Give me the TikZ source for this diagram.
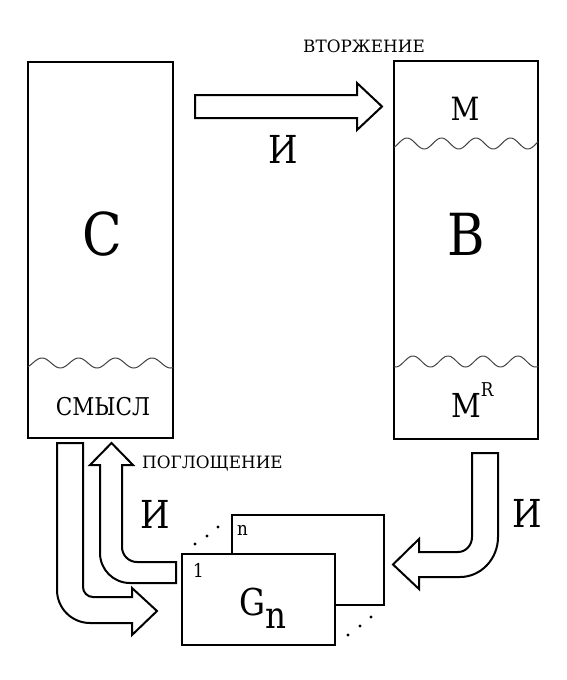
\documentclass[tikz,border=0pt]{standalone}
\usepackage{fontspec}
\setmainfont{DejaVu Serif}[FakeStretch=0.88]
\newfontfamily\labelfont{DejaVu Serif}[FakeStretch=0.99]
\begin{document}
\begin{tikzpicture}[x=1pt,y=-1pt,
  box/.style={draw, line width=2.5pt, inner sep=0pt},
  gbox/.style={draw, line width=2pt, fill=white, inner sep=0pt},
  blockarrow/.style={draw, line width=2pt, fill=white, line join=miter},
  wave/.style={line width=1pt, black!75},
  txt/.style={inner sep=0pt, anchor=base}]
\useasboundingbox (0,0) rectangle (567,680);
% main boxes
\node[box, minimum width=145pt, minimum height=376pt] (C) at (100.5,250) {};
\node[box, minimum width=144pt, minimum height=378pt] (B) at (466,250) {};
% waves
\draw[wave] plot[domain=28:173, samples=160] (\x, {363 - 5*cos(9.809*(\x-42))});
\draw[wave] plot[domain=394:538, samples=160] (\x, {143.5 - 5.5*cos(10.435*(\x-407))});
\draw[wave] plot[domain=394:538, samples=160] (\x, {361.5 - 5.5*cos(10.286*(\x-413))});
% texts in boxes
\node[txt] (Ct) at (102,255) {\fontsize{59}{64}\selectfont C};
\node[txt] (Bt) at (466,255) {\fontsize{58}{64}\selectfont B};
\node[txt] (Mt) at (465,120) {\fontsize{32}{36}\selectfont M};
\node[txt, anchor=base west] (MRt) at (451,417) {\fontsize{33}{36}\selectfont M\raisebox{21pt}{\fontsize{19}{22}\selectfont R}};
\node[txt] (smysl) at (103,415) {\fontsize{24.5}{28}\selectfont СМЫСЛ};
\node[txt] (vtor) at (364,52) {\labelfont\fontsize{17}{20}\selectfont ВТОРЖЕНИЕ};
\node[txt, anchor=base west] (pogl) at (142,468) {\labelfont\fontsize{17}{20}\selectfont ПОГЛОЩЕНИЕ};
\node[txt] (I1) at (283,163) {\fontsize{38.5}{42}\selectfont И};
\node[txt] (I2) at (155,528) {\fontsize{38.5}{42}\selectfont И};
\node[txt] (I3) at (527,527) {\fontsize{38.5}{42}\selectfont И};
% G boxes
\node[gbox, minimum width=152pt, minimum height=90pt] (Gback) at (308,560) {};
\node[gbox, minimum width=153pt, minimum height=91pt] (Gfront) at (258.5,599.5) {};
\node[txt, anchor=base west] (one) at (193,577) {\fontsize{19}{22}\selectfont 1};
\node[txt, anchor=base west] (nn) at (237,535) {\fontsize{19}{22}\selectfont n};
\node[txt, anchor=base west] (Gn) at (239,615) {\fontsize{37}{40}\selectfont G\raisebox{-13pt}{n}};
% dots
\fill (195,544) circle (1.6pt) (207,536) circle (1.6pt) (218,527) circle (1.6pt);
\fill (348,635) circle (1.6pt) (360,626) circle (1.6pt) (371,617) circle (1.6pt);
% top arrow
\draw[blockarrow] (195,95) -- (357,95) -- (357,83) -- (382,106.5) -- (357,130) -- (357,118) -- (195,118) -- cycle;
% right arrow
\draw[blockarrow] (472,453) -- (498,453) -- (498,537) .. controls (498,559) and (481,577) .. (460,577)
  -- (419,577) -- (419,589) -- (393,564.5) -- (419,539) -- (419,552) -- (458,552)
  .. controls (465.7,552) and (472,545.3) .. (472,537) -- cycle;
% bottom-left outer arrow (down then right)
\draw[blockarrow] (57,443) -- (83,443) -- (83,587) .. controls (83,592.5) and (87.5,597) .. (93,597)
  -- (132,597) -- (132,588) -- (157,611) -- (132,635) -- (132,623) -- (90,623)
  .. controls (71.8,623) and (57,608.2) .. (57,590) -- cycle;
% bottom-left inner arrow (left then up)
\draw[blockarrow] (176,562) -- (137,562) .. controls (128.7,562) and (122,555.3) .. (122,547)
  -- (122,465) -- (133,465) -- (111.5,443) -- (90,465) -- (100,465) -- (100,553)
  .. controls (100,569.6) and (113.4,583) .. (130,583) -- (176,583) -- cycle;
\end{tikzpicture}
\end{document}
